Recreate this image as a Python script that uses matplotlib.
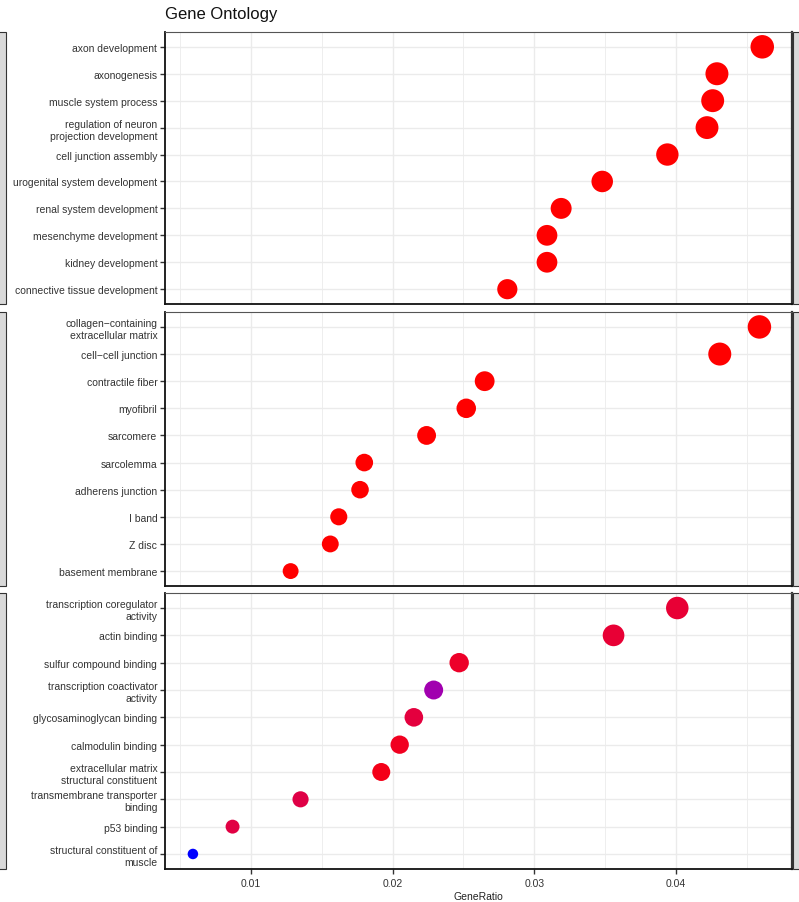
import numpy as np
import matplotlib
matplotlib.use("Agg")
import matplotlib.pyplot as plt
from matplotlib.colors import LinearSegmentedColormap, Normalize
from matplotlib.patches import Rectangle

plt.rcParams['font.family'] = ['Liberation Sans', 'DejaVu Sans']

# enriched GO terms, one list per ontology (top to bottom)
bp_terms = ["axon development", "axonogenesis", "muscle system process",
            "regulation of neuron\nprojection development", "cell junction assembly",
            "urogenital system development", "renal system development",
            "mesenchyme development", "kidney development", "connective tissue development"]
bp_ratio = [0.0461, 0.0429, 0.0426, 0.0422, 0.0394, 0.0348, 0.0319, 0.0309, 0.0309, 0.0281]
bp_padj = [1e-9, 1e-9, 1e-9, 1e-9, 1e-9, 1e-9, 1e-9, 1e-9, 1e-9, 1e-9]

cc_terms = ["collagen\u2212containing\nextracellular matrix", "cell\u2212cell junction",
            "contractile fiber", "myofibril", "sarcomere", "sarcolemma",
            "adherens junction", "I band", "Z disc", "basement membrane"]
cc_ratio = [0.0459, 0.0431, 0.0265, 0.0252, 0.0224, 0.0180, 0.0177, 0.0162, 0.0156, 0.0128]
cc_padj = [1e-9, 1e-9, 1e-9, 1e-9, 1e-9, 1e-9, 1e-9, 1e-9, 1e-9, 1e-9]

mf_terms = ["transcription coregulator\nactivity", "actin binding", "sulfur compound binding",
            "transcription coactivator\nactivity", "glycosaminoglycan binding",
            "calmodulin binding", "extracellular matrix\nstructural constituent",
            "transmembrane transporter\nbinding", "p53 binding",
            "structural constituent of\nmuscle"]
mf_ratio = [0.0401, 0.0356, 0.0247, 0.0229, 0.0215, 0.0205, 0.0192, 0.0135, 0.0087, 0.0059]
mf_padj = [5.5e-4, 5.5e-4, 4.2e-4, 2.5e-3, 6.3e-4, 3.4e-4, 2.5e-4, 7.6e-4, 7.1e-4, 4.2e-3]

xticks = [0.01, 0.02, 0.03, 0.04]
xtick_labels = ["0.01", "0.02", "0.03", "0.04"]

panels = [(bp_terms, bp_ratio, bp_padj),
          (cc_terms, cc_ratio, cc_padj),
          (mf_terms, mf_ratio, mf_padj)]

# red (significant) -> blue
cmap = LinearSegmentedColormap.from_list(
    "padj", [(0.0, "#FF0000"), (0.15, "#E4003E"), (0.6, "#A000B0"), (1.0, "#0000FF")])
all_padj = np.concatenate([bp_padj, cc_padj, mf_padj])
norm = Normalize(vmin=all_padj.min(), vmax=all_padj.max())

all_ratio = np.concatenate([bp_ratio, cc_ratio, mf_ratio])
rmin, rmax = all_ratio.min(), all_ratio.max()

def dot_size(r):
    r = np.asarray(r)
    diam_px = 10.5 + 13.0 * np.sqrt((r - rmin) / (rmax - rmin))
    diam_pt = diam_px * 72.0 / 100.0
    return diam_pt ** 2

W, H = 799, 903
fig = plt.figure(figsize=(W / 100, H / 100), dpi=100)

left, right = 165 / W, 792 / W
boxes = [(33, 305), (313, 587), (594, 870)]
xlim = (0.00393, 0.0482)

for k, ((terms, ratio, padj), (top, bot)) in enumerate(zip(panels, boxes)):
    ax = fig.add_axes([left, 1 - bot / H, right - left, (bot - top) / H])
    n = len(terms)
    ypos = np.arange(n)[::-1]
    ax.set_xlim(*xlim)
    ax.set_ylim(-0.55, n - 0.45)

    # grid
    for gx in np.arange(0.005, 0.0481, 0.005):
        ax.axvline(gx, color="#EBEBEB", lw=1.0 if round(gx * 1000) % 10 == 0 else 0.6, zorder=0)
    for gy in ypos:
        ax.axhline(gy, color="#EBEBEB", lw=1.0, zorder=0)

    ax.scatter(ratio, ypos, s=dot_size(ratio), c=padj, cmap=cmap, norm=norm,
               edgecolors="none", zorder=3)

    ax.set_yticks(ypos)
    ax.set_yticklabels(terms, fontsize=7.5, color="#333333")
    for lab in ax.get_yticklabels():
        lab.set_linespacing(1.25)
    ax.tick_params(axis="y", length=3.5, width=1.0, color="#333333", pad=2)

    ax.set_xticks(xticks)
    if k == 2:
        ax.set_xticklabels(xtick_labels, fontsize=7.5, color="#333333")
        ax.tick_params(axis="x", length=3.5, width=1.0, color="#333333", pad=3)
        ax.set_xlabel("GeneRatio", fontsize=7.5, color="#222222", labelpad=2)
    else:
        ax.tick_params(axis="x", length=0, labelbottom=False)

    ax.spines["left"].set_linewidth(1.3)
    ax.spines["bottom"].set_linewidth(1.3)
    ax.spines["left"].set_color("#111111")
    ax.spines["bottom"].set_color("#111111")
    ax.spines["top"].set_linewidth(0.8)
    ax.spines["top"].set_color("#555555")
    ax.spines["right"].set_linewidth(1.6)
    ax.spines["right"].set_color("#333333")

    # facet strips cut off at both edges
    fig.patches.append(Rectangle((-0.01, 1 - bot / H), 0.01 + 6 / W, (bot - top) / H,
                                 transform=fig.transFigure, facecolor="#D9D9D9",
                                 edgecolor="#333333", lw=0.8))
    fig.patches.append(Rectangle((793 / W, 1 - bot / H), 0.02, (bot - top) / H,
                                 transform=fig.transFigure, facecolor="#D9D9D9",
                                 edgecolor="#333333", lw=0.8))

fig.text(left, 1 - 15 / H, "Gene Ontology", fontsize=12, color="#111111",
         ha="left", va="center")

fig.savefig("out.png", dpi=100)
